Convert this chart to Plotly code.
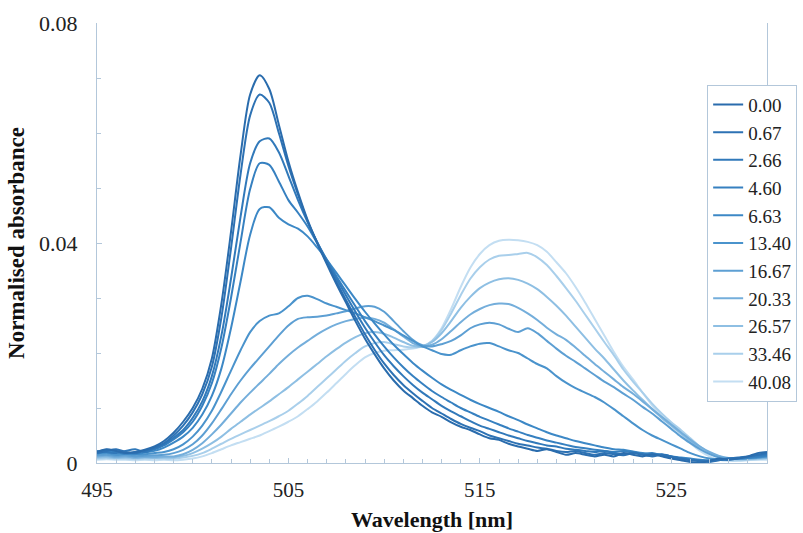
import plotly.graph_objects as go

wavelength = [495.0, 495.5, 496.0, 496.5, 497.0, 497.5, 498.0, 498.5, 499.0, 499.5,
              500.0, 500.5, 501.0, 501.5, 502.0, 502.5, 503.0, 503.5, 504.0, 504.5,
              505.0, 505.5, 506.0, 506.5, 507.0, 507.5, 508.0, 508.5, 509.0, 509.5,
              510.0, 510.5, 511.0, 511.5, 512.0, 512.5, 513.0, 513.5, 514.0, 514.5,
              515.0, 515.5, 516.0, 516.5, 517.0, 517.5, 518.0, 518.5, 519.0, 519.5,
              520.0, 520.5, 521.0, 521.5, 522.0, 522.5, 523.0, 523.5, 524.0, 524.5,
              525.0, 525.5, 526.0, 526.5, 527.0, 527.5, 528.0, 528.5, 529.0, 529.5, 530.0]

labels = ["0.00", "0.67", "2.66", "4.60", "6.63", "13.40", "16.67", "20.33", "26.57", "33.46", "40.08"]

s_0_00 = [0.0020, 0.0025, 0.0022, 0.0018, 0.0020, 0.0024, 0.0030, 0.0040, 0.0055, 0.0075,
          0.0100, 0.0135, 0.0190, 0.0290, 0.0420, 0.0560, 0.0670, 0.0705, 0.0680, 0.0615,
          0.0548, 0.0492, 0.0442, 0.0400, 0.0362, 0.0326, 0.0292, 0.0258, 0.0226, 0.0198,
          0.0172, 0.0150, 0.0132, 0.0118, 0.0104, 0.0092, 0.0084, 0.0074, 0.0066, 0.0060,
          0.0052, 0.0045, 0.0042, 0.0035, 0.0030, 0.0026, 0.0022, 0.0025, 0.0020, 0.0015,
          0.0018, 0.0015, 0.0012, 0.0015, 0.0012, 0.0018, 0.0015, 0.0012, 0.0016, 0.0012,
          0.0008, 0.0005, 0.0002, 0.0000, 0.0004, 0.0008, 0.0006, 0.0008, 0.0012, 0.0018, 0.0020]
s_0_67 = [0.0018, 0.0022, 0.0025, 0.0020, 0.0018, 0.0022, 0.0028, 0.0036, 0.0050, 0.0068,
          0.0092, 0.0125, 0.0175, 0.0265, 0.0390, 0.0525, 0.0632, 0.0670, 0.0655, 0.0600,
          0.0540, 0.0488, 0.0440, 0.0401, 0.0365, 0.0330, 0.0297, 0.0265, 0.0234, 0.0206,
          0.0181, 0.0160, 0.0142, 0.0127, 0.0113, 0.0100, 0.0090, 0.0080, 0.0071, 0.0064,
          0.0058, 0.0050, 0.0045, 0.0040, 0.0035, 0.0032, 0.0028, 0.0026, 0.0022, 0.0020,
          0.0022, 0.0018, 0.0015, 0.0018, 0.0016, 0.0014, 0.0018, 0.0015, 0.0012, 0.0015,
          0.0012, 0.0008, 0.0005, 0.0003, 0.0002, 0.0005, 0.0008, 0.0010, 0.0012, 0.0015, 0.0018]
s_2_66 = [0.0022, 0.0020, 0.0018, 0.0022, 0.0025, 0.0020, 0.0026, 0.0034, 0.0046, 0.0060,
          0.0082, 0.0112, 0.0158, 0.0232, 0.0335, 0.0448, 0.0545, 0.0585, 0.0590, 0.0565,
          0.0522, 0.0478, 0.0438, 0.0402, 0.0368, 0.0336, 0.0305, 0.0275, 0.0246, 0.0220,
          0.0196, 0.0176, 0.0158, 0.0142, 0.0128, 0.0116, 0.0104, 0.0094, 0.0085, 0.0076,
          0.0068, 0.0062, 0.0056, 0.0050, 0.0045, 0.0040, 0.0036, 0.0032, 0.0030, 0.0026,
          0.0024, 0.0022, 0.0020, 0.0022, 0.0018, 0.0016, 0.0019, 0.0016, 0.0013, 0.0016,
          0.0012, 0.0008, 0.0006, 0.0004, 0.0003, 0.0006, 0.0008, 0.0009, 0.0011, 0.0014, 0.0016]
s_4_60 = [0.0020, 0.0024, 0.0020, 0.0017, 0.0020, 0.0022, 0.0025, 0.0032, 0.0043, 0.0056,
          0.0075, 0.0104, 0.0145, 0.0210, 0.0300, 0.0402, 0.0498, 0.0545, 0.0542, 0.0512,
          0.0478, 0.0455, 0.0430, 0.0400, 0.0370, 0.0340, 0.0312, 0.0285, 0.0258, 0.0234,
          0.0212, 0.0192, 0.0174, 0.0158, 0.0144, 0.0131, 0.0120, 0.0110, 0.0100, 0.0092,
          0.0084, 0.0077, 0.0070, 0.0063, 0.0057, 0.0051, 0.0046, 0.0041, 0.0037, 0.0033,
          0.0029, 0.0027, 0.0024, 0.0022, 0.0020, 0.0022, 0.0019, 0.0016, 0.0018, 0.0014,
          0.0010, 0.0008, 0.0006, 0.0005, 0.0004, 0.0006, 0.0007, 0.0009, 0.0010, 0.0012, 0.0014]
s_6_63 = [0.0018, 0.0020, 0.0022, 0.0018, 0.0016, 0.0019, 0.0022, 0.0028, 0.0037, 0.0048,
          0.0064, 0.0088, 0.0122, 0.0172, 0.0245, 0.0330, 0.0415, 0.0462, 0.0465, 0.0446,
          0.0434, 0.0426, 0.0412, 0.0392, 0.0370, 0.0346, 0.0322, 0.0298, 0.0275, 0.0254,
          0.0234, 0.0215, 0.0198, 0.0182, 0.0168, 0.0155, 0.0143, 0.0133, 0.0124, 0.0115,
          0.0107, 0.0100, 0.0093, 0.0085, 0.0078, 0.0070, 0.0063, 0.0056, 0.0050, 0.0045,
          0.0040, 0.0036, 0.0032, 0.0028, 0.0025, 0.0024, 0.0021, 0.0018, 0.0017, 0.0015,
          0.0012, 0.0010, 0.0008, 0.0006, 0.0005, 0.0006, 0.0007, 0.0008, 0.0009, 0.0011, 0.0013]
s_13_40 = [0.0016, 0.0018, 0.0015, 0.0017, 0.0015, 0.0016, 0.0018, 0.0020, 0.0025, 0.0034,
           0.0048, 0.0068, 0.0095, 0.0130, 0.0168, 0.0205, 0.0238, 0.0258, 0.0268, 0.0272,
           0.0285, 0.0300, 0.0304, 0.0298, 0.0290, 0.0284, 0.0278, 0.0272, 0.0265, 0.0258,
           0.0250, 0.0242, 0.0232, 0.0222, 0.0212, 0.0205, 0.0198, 0.0197, 0.0205, 0.0212,
           0.0217, 0.0218, 0.0212, 0.0205, 0.0200, 0.0190, 0.0180, 0.0172, 0.0158, 0.0146,
           0.0136, 0.0128, 0.0120, 0.0110, 0.0098, 0.0085, 0.0072, 0.0060, 0.0050, 0.0042,
           0.0034, 0.0026, 0.0018, 0.0012, 0.0008, 0.0006, 0.0006, 0.0008, 0.0009, 0.0010, 0.0012]
s_16_67 = [0.0014, 0.0015, 0.0013, 0.0014, 0.0012, 0.0013, 0.0014, 0.0015, 0.0018, 0.0024,
           0.0034, 0.0050, 0.0072, 0.0098, 0.0125, 0.0150, 0.0172, 0.0192, 0.0212, 0.0232,
           0.0250, 0.0262, 0.0265, 0.0266, 0.0268, 0.0272, 0.0276, 0.0281, 0.0285, 0.0284,
           0.0275, 0.0258, 0.0240, 0.0224, 0.0214, 0.0212, 0.0216, 0.0222, 0.0232, 0.0245,
           0.0252, 0.0255, 0.0252, 0.0244, 0.0238, 0.0245, 0.0236, 0.0222, 0.0208, 0.0195,
           0.0184, 0.0172, 0.0160, 0.0148, 0.0138, 0.0126, 0.0115, 0.0102, 0.0090, 0.0076,
           0.0062, 0.0048, 0.0036, 0.0025, 0.0016, 0.0010, 0.0008, 0.0008, 0.0009, 0.0010, 0.0012]
s_20_33 = [0.0012, 0.0013, 0.0011, 0.0012, 0.0010, 0.0011, 0.0011, 0.0012, 0.0012, 0.0016,
           0.0024, 0.0036, 0.0052, 0.0070, 0.0090, 0.0110, 0.0128, 0.0145, 0.0162, 0.0180,
           0.0196, 0.0210, 0.0222, 0.0234, 0.0244, 0.0252, 0.0258, 0.0262, 0.0264, 0.0262,
           0.0255, 0.0243, 0.0230, 0.0218, 0.0212, 0.0215, 0.0225, 0.0240, 0.0256, 0.0270,
           0.0280, 0.0287, 0.0290, 0.0289, 0.0282, 0.0272, 0.0260, 0.0246, 0.0234, 0.0224,
           0.0210, 0.0195, 0.0180, 0.0166, 0.0152, 0.0138, 0.0126, 0.0112, 0.0098, 0.0084,
           0.0070, 0.0056, 0.0042, 0.0030, 0.0020, 0.0013, 0.0009, 0.0008, 0.0008, 0.0009, 0.0010]
s_26_57 = [0.0010, 0.0011, 0.0009, 0.0010, 0.0009, 0.0010, 0.0009, 0.0010, 0.0010, 0.0013,
           0.0018, 0.0026, 0.0036, 0.0048, 0.0062, 0.0075, 0.0088, 0.0100, 0.0112, 0.0125,
           0.0138, 0.0152, 0.0166, 0.0180, 0.0194, 0.0207, 0.0219, 0.0229, 0.0236, 0.0238,
           0.0235, 0.0228, 0.0220, 0.0213, 0.0212, 0.0220, 0.0236, 0.0258, 0.0282, 0.0302,
           0.0318, 0.0328, 0.0334, 0.0336, 0.0333, 0.0326, 0.0316, 0.0302, 0.0286, 0.0268,
           0.0248, 0.0228, 0.0208, 0.0190, 0.0170, 0.0150, 0.0132, 0.0115, 0.0098, 0.0082,
           0.0068, 0.0054, 0.0040, 0.0028, 0.0018, 0.0012, 0.0008, 0.0007, 0.0007, 0.0008, 0.0009]
s_33_46 = [0.0008, 0.0009, 0.0008, 0.0008, 0.0007, 0.0008, 0.0008, 0.0008, 0.0008, 0.0010,
           0.0013, 0.0018, 0.0026, 0.0035, 0.0044, 0.0052, 0.0060, 0.0068, 0.0076, 0.0085,
           0.0095, 0.0108, 0.0122, 0.0138, 0.0154, 0.0170, 0.0186, 0.0200, 0.0212, 0.0218,
           0.0220, 0.0216, 0.0212, 0.0210, 0.0212, 0.0222, 0.0242, 0.0272, 0.0305, 0.0335,
           0.0356, 0.0370, 0.0377, 0.0378, 0.0380, 0.0382, 0.0374, 0.0360, 0.0340, 0.0318,
           0.0295, 0.0270, 0.0245, 0.0220, 0.0196, 0.0170, 0.0148, 0.0128, 0.0108, 0.0090,
           0.0074, 0.0060, 0.0045, 0.0030, 0.0018, 0.0010, 0.0006, 0.0005, 0.0006, 0.0007, 0.0008]
s_40_08 = [0.0006, 0.0007, 0.0006, 0.0006, 0.0005, 0.0006, 0.0005, 0.0006, 0.0005, 0.0006,
           0.0008, 0.0012, 0.0018, 0.0025, 0.0032, 0.0038, 0.0044, 0.0050, 0.0058, 0.0066,
           0.0075, 0.0085, 0.0098, 0.0112, 0.0128, 0.0145, 0.0162, 0.0178, 0.0192, 0.0200,
           0.0204, 0.0205, 0.0206, 0.0208, 0.0212, 0.0222, 0.0245, 0.0280, 0.0320, 0.0355,
           0.0380, 0.0396, 0.0404, 0.0406, 0.0405, 0.0402, 0.0396, 0.0384, 0.0365, 0.0345,
           0.0320, 0.0292, 0.0262, 0.0232, 0.0202, 0.0175, 0.0152, 0.0128, 0.0105, 0.0085,
           0.0068, 0.0052, 0.0036, 0.0022, 0.0012, 0.0006, 0.0004, 0.0004, 0.0005, 0.0006, 0.0006]

series = [s_0_00, s_0_67, s_2_66, s_4_60, s_6_63, s_13_40, s_16_67, s_20_33, s_26_57, s_33_46, s_40_08]
colors = ["#2a6cad", "#2d72b4", "#3179ba", "#3680c0", "#3c88c6", "#4a93cc",
          "#5d9fd3", "#74aedb", "#8ebfe3", "#a9cfeb", "#c3def2"]

fig = go.Figure()
# add lightest first so the darker curves are drawn on top; legend rank keeps 0.00 at the top
for i in reversed(range(len(labels))):
    fig.add_trace(go.Scatter(x=wavelength, y=series[i], name=labels[i], mode="lines",
                             line=dict(color=colors[i], width=2, shape="spline", smoothing=0.8),
                             legendgroup=f"g{i}", legendrank=i + 1))

serif = "Liberation Serif, Times New Roman, serif"
axis_col = "#b3c7da"
fig.update_layout(
    width=803, height=533,
    margin=dict(l=97, r=36, t=23, b=70, autoexpand=False),
    paper_bgcolor="white", plot_bgcolor="white",
    font=dict(family=serif, color="#222222"),
    showlegend=True,
    legend=dict(x=1.045, xanchor="right", y=0.86, yanchor="top",
                traceorder="normal", tracegroupgap=2,
                bordercolor=axis_col, borderwidth=1, bgcolor="white",
                font=dict(family=serif, size=19, color="#222222")),
    xaxis=dict(range=[495, 530], tickvals=[495, 505, 515, 525], ticks="inside", ticklen=5,
               tickcolor=axis_col, showline=True, linecolor=axis_col, linewidth=1,
               showgrid=False, zeroline=False, ticklabelstandoff=8,
               tickfont=dict(size=21, family=serif, color="#222222"),
               minor=dict(dtick=1, ticks="inside", ticklen=4, tickcolor=axis_col),
               title=dict(text="<b>Wavelength [nm]</b>", font=dict(size=22, family=serif, color="#111111"), standoff=10)),
    yaxis=dict(range=[0, 0.08], tickvals=[0, 0.04, 0.08], ticktext=["0", "0.04", "0.08"],
               ticks="inside", ticklen=5, tickcolor=axis_col, showline=True, linecolor=axis_col,
               linewidth=1, mirror=True, showgrid=False, zeroline=False, ticklabelstandoff=14,
               tickfont=dict(size=22, family=serif, color="#222222"),
               minor=dict(dtick=0.01, ticks="inside", ticklen=4, tickcolor=axis_col),
               title=dict(text="<b>Normalised absorbance</b>", font=dict(size=23, family=serif, color="#111111"), standoff=8)),
)
fig.write_html("out.html")
